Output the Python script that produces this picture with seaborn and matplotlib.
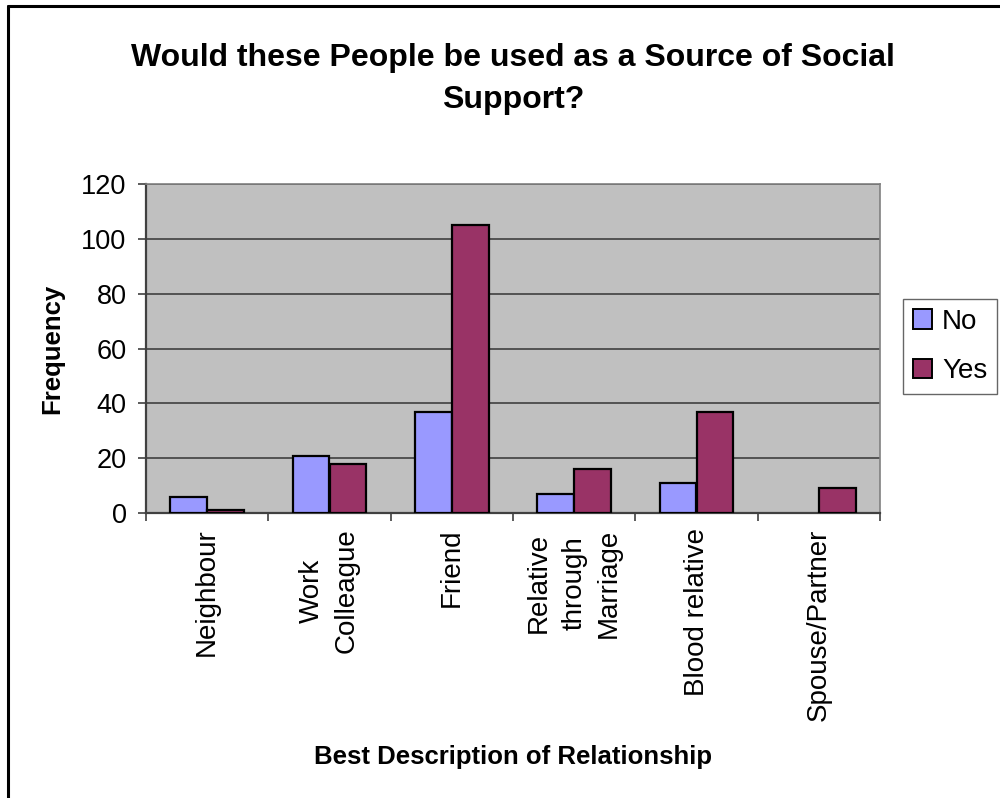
import matplotlib
matplotlib.use("Agg")
import matplotlib.pyplot as plt
from matplotlib.lines import Line2D
from matplotlib.patches import Patch
import seaborn as sns
import pandas as pd

categories = ["Neighbour", "Work\nColleague", "Friend", "Relative\nthrough\nMarriage",
              "Blood relative", "Spouse/Partner"]
no_values = [6, 21, 37, 7, 11, 0]
yes_values = [1, 18, 105, 16, 37, 9]
series = ["No", "Yes"]
colors = {"No": "#9999FF", "Yes": "#993366"}
y_ticks = [0, 20, 40, 60, 80, 100, 120]

df = pd.DataFrame({
    "Relationship": categories * 2,
    "Answer": ["No"] * len(categories) + ["Yes"] * len(categories),
    "Frequency": no_values + yes_values,
})

sns.set_theme(style="white")
plt.rcParams["font.family"] = ["Liberation Sans", "DejaVu Sans"]
plt.rcParams["text.color"] = "black"
plt.rcParams["axes.labelcolor"] = "black"
plt.rcParams["xtick.color"] = "black"
plt.rcParams["ytick.color"] = "black"

fig = plt.figure(figsize=(10, 7.98), dpi=100)
ax = fig.add_axes([0.146, 0.357, 0.734, 0.4123])
ax.set_facecolor("#C0C0C0")

sns.barplot(data=df, x="Relationship", y="Frequency", hue="Answer",
            order=categories, hue_order=series, palette=colors, saturation=1,
            width=0.6, edgecolor="black", linewidth=1.6, ax=ax, legend=False,
            zorder=3)

# empty bars get no outline
for bar in ax.patches:
    if bar.get_height() == 0:
        bar.set_linewidth(0)

ax.set_ylim(0, 120)
ax.set_xlim(-0.5, len(categories) - 0.5)
ax.set_yticks(y_ticks)
ax.set_yticklabels([str(v) for v in y_ticks], fontsize=19.5)
ax.yaxis.grid(True, color="#404040", linewidth=1.2, zorder=0)
ax.set_axisbelow(True)

# category labels on majors, boundary ticks on minors
ax.set_xticks(range(len(categories)))
ax.set_xticklabels(categories, rotation=90, fontsize=20, ha="center", va="top",
                   multialignment="center", linespacing=1.45)
ax.set_xticks([i - 0.5 for i in range(len(categories) + 1)], minor=True)
ax.tick_params(axis="x", which="major", length=0, pad=11)
ax.tick_params(axis="x", which="minor", length=6, width=1.2, color="#404040",
               direction="out", bottom=True)
ax.tick_params(axis="y", which="major", length=6, width=1.2, color="#404040",
               labelcolor="black", direction="out", left=True, pad=8)

for side in ["left", "bottom"]:
    ax.spines[side].set_color("#404040")
    ax.spines[side].set_linewidth(1.6)
for side in ["top", "right"]:
    ax.spines[side].set_color("#808080")
    ax.spines[side].set_linewidth(1.2)

ax.set_xlabel("Best Description of Relationship", fontsize=18.5, fontweight="bold",
              labelpad=0)
ax.xaxis.set_label_coords(0.5, (757 - 513) / -329.0, transform=ax.transAxes)
ax.xaxis.label.set_va("center")
ax.set_ylabel("Frequency", fontsize=18.5, fontweight="bold")
ax.yaxis.set_label_coords((52 - 146) / 734.0, 0.5)
ax.yaxis.label.set_va("center")

fig.text(0.513, 1 - 79 / 798, "Would these People be used as a Source of Social\nSupport?",
         ha="center", va="center", fontsize=23, fontweight="bold", linespacing=1.5,
         color="black")

handles = [Patch(facecolor=colors[s], edgecolor="black", linewidth=1.4, label=s)
           for s in series]
leg = fig.legend(handles=handles, loc="upper left",
                 bbox_to_anchor=(903 / 1000, 1 - 299 / 798), fontsize=20,
                 frameon=True, fancybox=False, edgecolor="#404040",
                 handlelength=0.7, handleheight=0.7, handletextpad=0.35,
                 borderpad=0.35, labelspacing=0.85, borderaxespad=0)
leg.get_frame().set_linewidth(1.0)

# chart-area frame (left and top edges)
fig.add_artist(Line2D([8 / 1000, 8 / 1000], [0, 1 - 6 / 798], color="black", linewidth=2.2))
fig.add_artist(Line2D([8 / 1000, 1], [1 - 6 / 798, 1 - 6 / 798], color="black", linewidth=2.2))

fig.savefig("out.png", dpi=100, facecolor="white")
